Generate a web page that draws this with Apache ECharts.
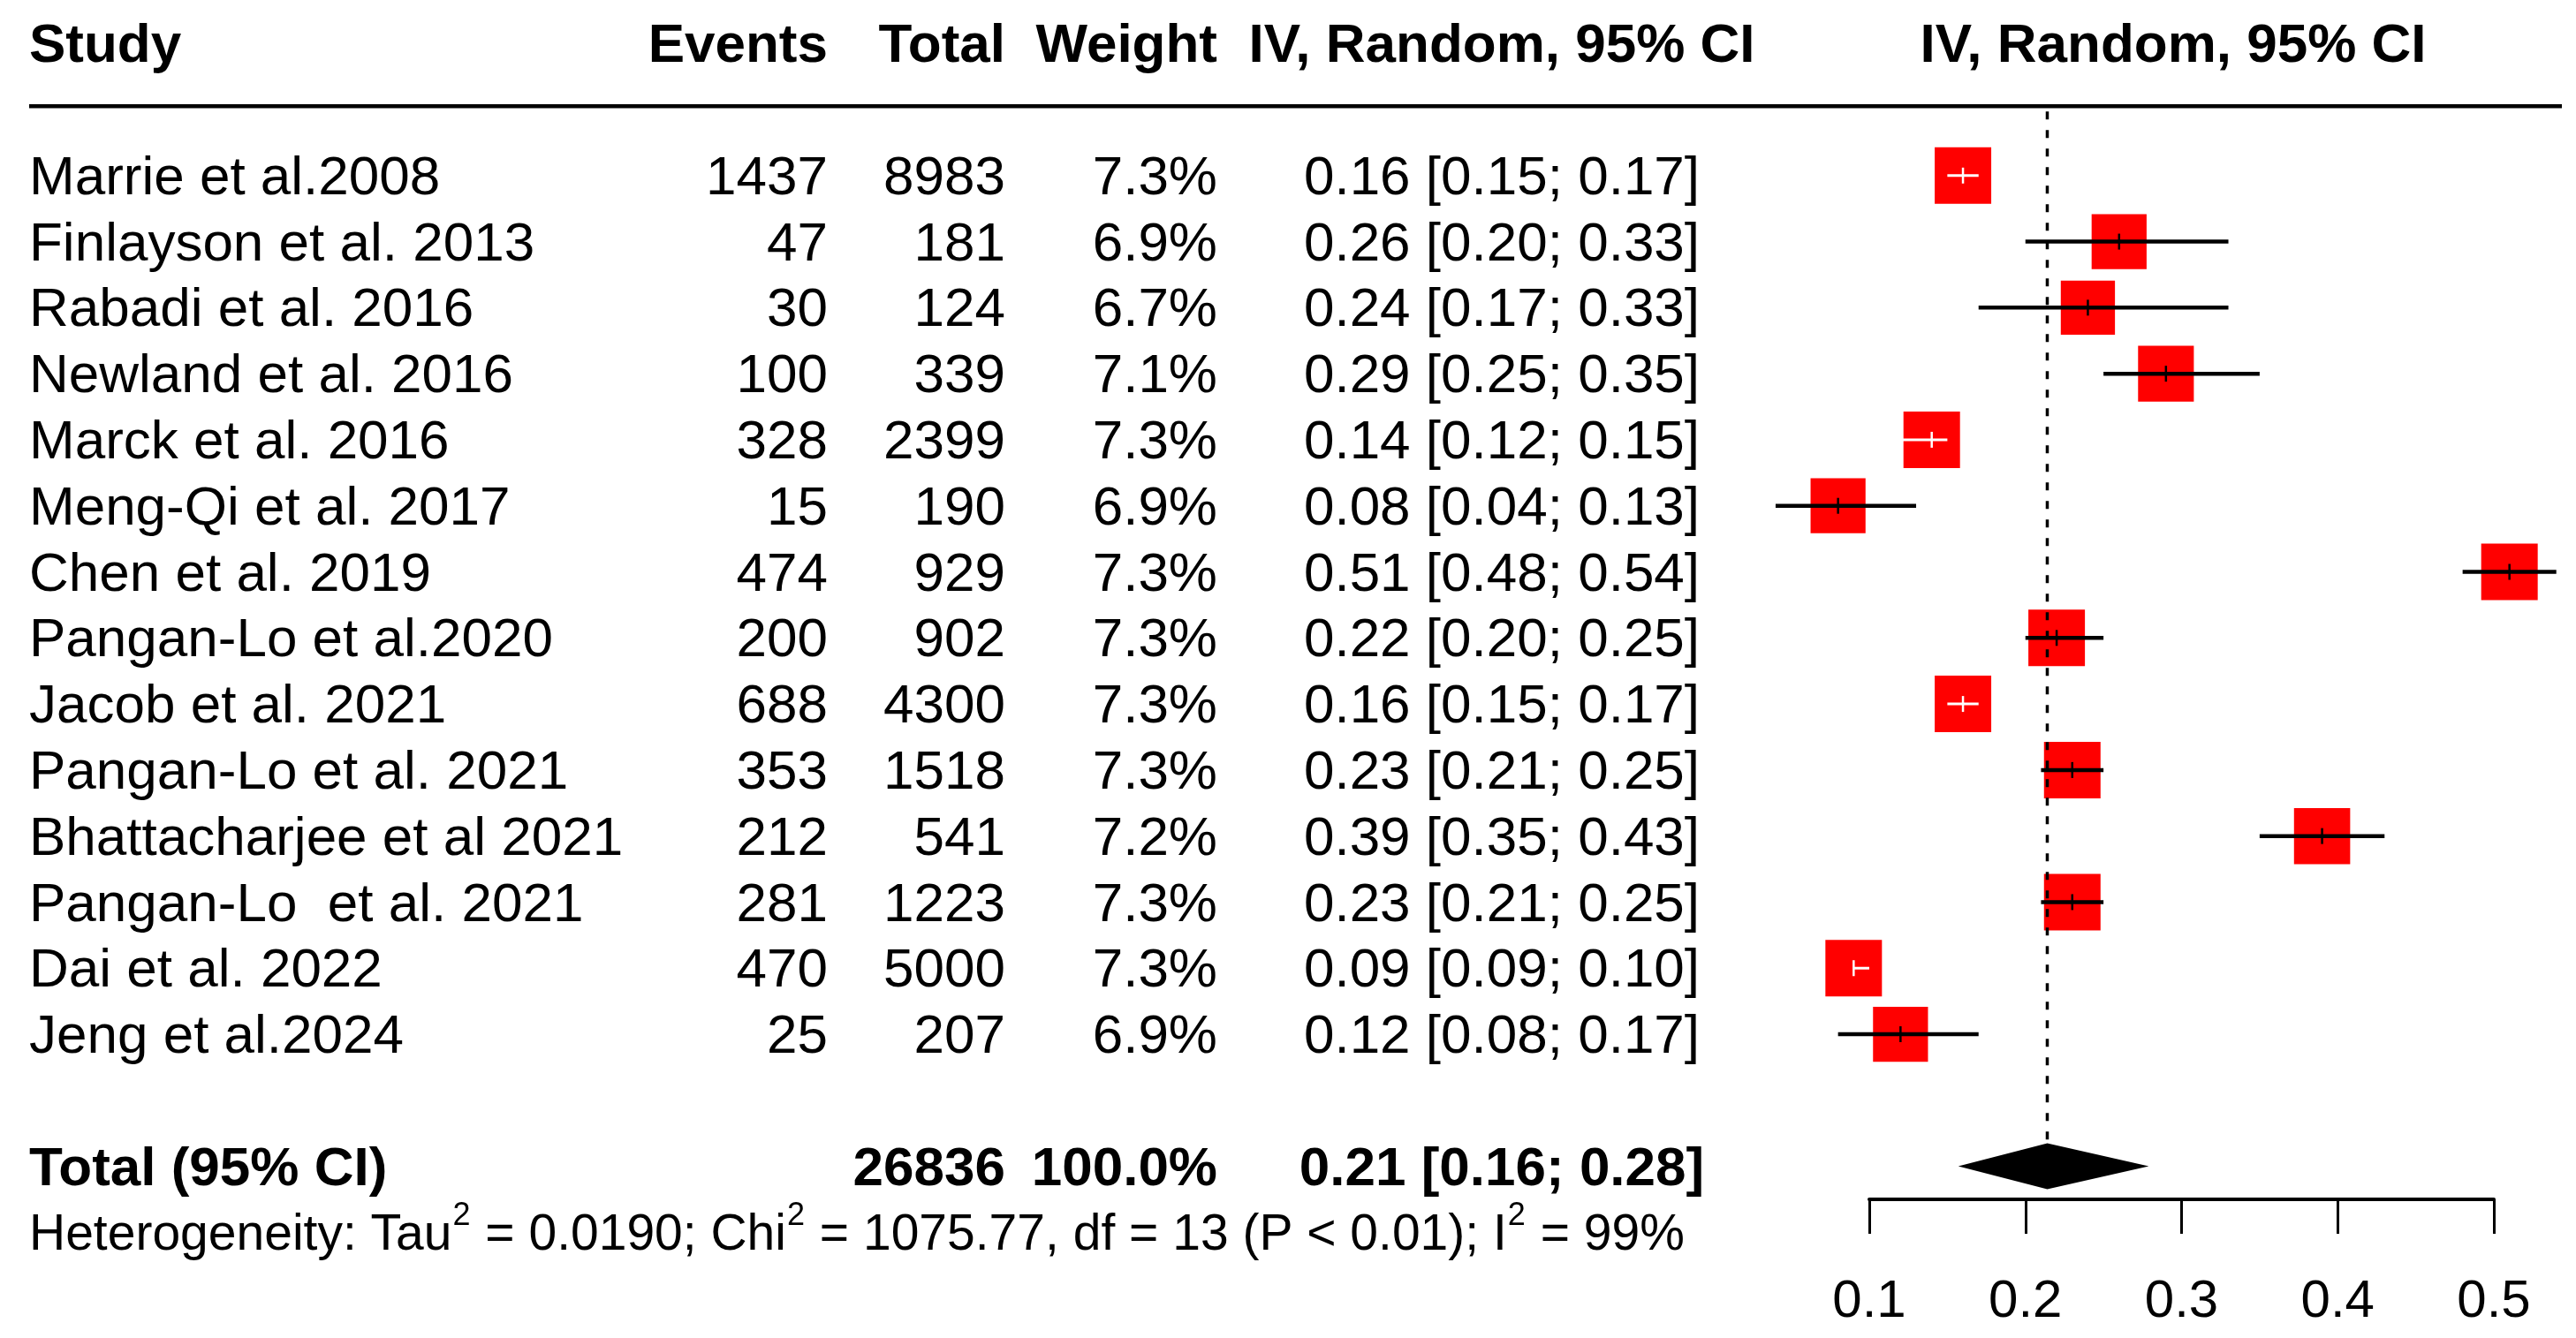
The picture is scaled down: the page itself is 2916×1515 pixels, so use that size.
<!DOCTYPE html>
<html>
<head>
<meta charset="utf-8">
<script src="https://cdn.jsdelivr.net/npm/echarts/dist/echarts.min.js"></script>
<style>
html,body{margin:0;padding:0;background:#fff;}
#chart{width:2916px;height:1515px;}
</style>
</head>
<body>
<div id="chart"></div>
<script>
// ---------------- data ----------------
const studies = [
  'Marrie et al.2008', 'Finlayson et al. 2013', 'Rabadi et al. 2016', 'Newland et al. 2016',
  'Marck et al. 2016', 'Meng-Qi et al. 2017', 'Chen et al. 2019', 'Pangan-Lo et al.2020',
  'Jacob et al. 2021', 'Pangan-Lo et al. 2021', 'Bhattacharjee et al 2021', 'Pangan-Lo  et al. 2021',
  'Dai et al. 2022', 'Jeng et al.2024'
];
const events    = [1437, 47, 30, 100, 328, 15, 474, 200, 688, 353, 212, 281, 470, 25];
const totals    = [8983, 181, 124, 339, 2399, 190, 929, 902, 4300, 1518, 541, 1223, 5000, 207];
const weights   = [7.3, 6.9, 6.7, 7.1, 7.3, 6.9, 7.3, 7.3, 7.3, 7.3, 7.2, 7.3, 7.3, 6.9];
const estimates = [0.16, 0.26, 0.24, 0.29, 0.14, 0.08, 0.51, 0.22, 0.16, 0.23, 0.39, 0.23, 0.09, 0.12];
const lowers    = [0.15, 0.20, 0.17, 0.25, 0.12, 0.04, 0.48, 0.20, 0.15, 0.21, 0.35, 0.21, 0.09, 0.08];
const uppers    = [0.17, 0.33, 0.33, 0.35, 0.15, 0.13, 0.54, 0.25, 0.17, 0.25, 0.43, 0.25, 0.10, 0.17];

const headerLabels = ['Study', 'Events', 'Total', 'Weight', 'IV, Random, 95% CI'];
const forestHeader = 'IV, Random, 95% CI';
const totalLabel = 'Total (95% CI)';
const totalN = 26836;
const totalWeight = 100.0;
const pooledEst = 0.214;     // plotted position
const pooledLower = 0.157;
const pooledUpper = 0.279;
const pooledText = '0.21 [0.16; 0.28]';
const tau2 = '0.0190';
const chi2 = '1075.77';
const hetDf = 13;
const hetP = '< 0.01';
const i2 = 99;
const xTicks = [0.1, 0.2, 0.3, 0.4, 0.5];

// ---------------- layout / style ----------------
const FONT = '"Liberation Sans", Arial, Helvetica, sans-serif';
const FS = 62;
const TY = 4; // text baseline nudge
const COL = { study: 33, events: 937, total: 1138, weight: 1378, ci: 1700, forestHead: 2460, lineEnd: 2900 };
const ROW_HEADER = -2, ROW_HLINE = -1.05, ROW_TOTAL = 15, ROW_HET = 16;

const mctx = document.createElement('canvas').getContext('2d');
function measure(s, size) { mctx.font = size + 'px ' + FONT; return mctx.measureText(s).width; }

function txt(s, x, y, align, size, bold) {
  return { type: 'text', style: { text: String(s), x: x, y: y + TY, fill: '#000', fontSize: size,
    fontFamily: FONT, fontWeight: bold ? 'bold' : 'normal', align: align, verticalAlign: 'middle' } };
}
function ciText(e, l, u) { return e.toFixed(2) + ' [' + l.toFixed(2) + '; ' + u.toFixed(2) + ']'; }

const chart = echarts.init(document.getElementById('chart'), null, { renderer: 'canvas' });

const option = {
  backgroundColor: '#fff',
  animation: false,
  grid: { left: 2116, right: 93, top: 124, bottom: 157 },
  xAxis: {
    type: 'value', position: 'bottom', min: xTicks[0], max: xTicks[xTicks.length - 1], interval: xTicks[1] - xTicks[0],
    axisLine: { show: true, onZero: false, lineStyle: { color: '#000', width: 4 } },
    axisTick: { show: true, length: 39, lineStyle: { color: '#000', width: 3 } },
    axisLabel: { color: '#000', fontSize: 60, fontFamily: FONT, margin: 86,
      formatter: v => v.toFixed(1) },
    splitLine: { show: false }
  },
  yAxis: { type: 'value', inverse: true, min: -1, max: 15.5, show: false },
  series: [
    // table header and header rule
    {
      type: 'custom', clip: false, data: [[xTicks[0], ROW_HEADER]],
      renderItem: (params, api) => {
        const y = api.coord([xTicks[0], ROW_HEADER])[1];
        const yl = api.coord([xTicks[0], ROW_HLINE])[1];
        return { type: 'group', children: [
          txt(headerLabels[0], COL.study, y, 'left', FS, true),
          txt(headerLabels[1], COL.events, y, 'right', FS, true),
          txt(headerLabels[2], COL.total, y, 'right', FS, true),
          txt(headerLabels[3], COL.weight, y, 'right', FS, true),
          txt(headerLabels[4], COL.ci, y, 'center', FS, true),
          txt(forestHeader, COL.forestHead, y, 'center', FS, true),
          { type: 'line', shape: { x1: COL.study, y1: yl, x2: COL.lineEnd, y2: yl },
            style: { stroke: '#000', lineWidth: 4.5 } }
        ] };
      }
    },
    // study rows text
    {
      type: 'custom', clip: false,
      data: studies.map((s, i) => [estimates[i], i]),
      renderItem: (params, api) => {
        const i = params.dataIndex;
        const y = api.coord([estimates[i], i])[1];
        return { type: 'group', children: [
          txt(studies[i], COL.study, y, 'left', FS, false),
          txt(events[i], COL.events, y, 'right', FS, false),
          txt(totals[i], COL.total, y, 'right', FS, false),
          txt(weights[i].toFixed(1) + '%', COL.weight, y, 'right', FS, false),
          txt(ciText(estimates[i], lowers[i], uppers[i]), COL.ci, y, 'center', FS, false)
        ] };
      }
    },
    // study squares and CIs
    {
      type: 'custom', clip: false,
      data: estimates.map((e, i) => [e, i, lowers[i], uppers[i], weights[i]]),
      renderItem: (params, api) => {
        const i = api.value(1);
        const c = api.coord([api.value(0), i]);
        const l = api.coord([api.value(2), i]);
        const h = api.coord([api.value(3), i]);
        const side = 64 * Math.sqrt(api.value(4) / 7.3);
        const inside = (h[0] - l[0]) < side;
        const col = inside ? '#fff' : '#000';
        return { type: 'group', children: [
          { type: 'rect', shape: { x: c[0] - side / 2, y: c[1] - side / 2, width: side, height: side },
            style: { fill: '#ff0000' } },
          { type: 'line', shape: { x1: l[0], y1: c[1], x2: h[0], y2: c[1] },
            style: { stroke: col, lineWidth: inside ? 3 : 4.5 } },
          { type: 'line', shape: { x1: c[0], y1: c[1] - 9, x2: c[0], y2: c[1] + 9 },
            style: { stroke: col, lineWidth: 2.5 } }
        ] };
      }
    },
    // pooled: dashed reference line and diamond, total row text
    {
      type: 'custom', clip: false,
      data: [[pooledEst, ROW_TOTAL, pooledLower, pooledUpper]],
      renderItem: (params, api) => {
        const c = api.coord([api.value(0), ROW_TOTAL]);
        const l = api.coord([api.value(2), ROW_TOTAL]);
        const h = api.coord([api.value(3), ROW_TOTAL]);
        const top = api.coord([api.value(0), ROW_HLINE])[1];
        const hh = 26;
        return { type: 'group', children: [
          { type: 'line', shape: { x1: c[0], y1: top + 6, x2: c[0], y2: c[1] - hh },
            style: { stroke: '#000', lineWidth: 3.5, lineDash: [9, 12] } },
          { type: 'polygon', shape: { points: [[l[0], c[1]], [c[0], c[1] - hh], [h[0], c[1]], [c[0], c[1] + hh]] },
            style: { fill: '#000' } },
          txt(totalLabel, COL.study, c[1], 'left', FS, true),
          txt(totalN, COL.total, c[1], 'right', FS, true),
          txt(totalWeight.toFixed(1) + '%', COL.weight, c[1], 'right', FS, true),
          txt(pooledText, COL.ci, c[1], 'center', FS, true)
        ] };
      }
    },
    // heterogeneity line with superscripts
    {
      type: 'custom', clip: false, data: [[xTicks[0], ROW_HET]],
      renderItem: (params, api) => {
        const y = api.coord([xTicks[0], ROW_HET])[1];
        const NS = 57, SS = 36;
        const parts = [
          ['Heterogeneity: Tau', false], ['2', true], [' = ' + tau2 + '; Chi', false], ['2', true],
          [' = ' + chi2 + ', df = ' + hetDf + ' (P ' + hetP + '); I', false], ['2', true],
          [' = ' + i2 + '%', false]
        ];
        let x = COL.study;
        const children = [];
        parts.forEach(p => {
          const size = p[1] ? SS : NS;
          children.push(txt(p[0], x + (p[1] ? 1 : 0), p[1] ? y - 22 : y, 'left', size, false));
          x += measure(p[0], size) + (p[1] ? 2 : 0);
        });
        return { type: 'group', children: children };
      }
    }
  ]
};
chart.setOption(option);
</script>
</body>
</html>
